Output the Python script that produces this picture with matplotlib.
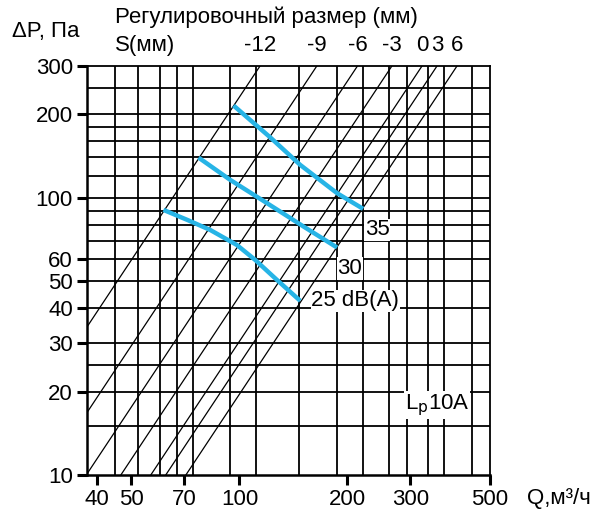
import matplotlib.pyplot as plt
import matplotlib.transforms as mtransforms

plt.rcParams['font.family'] = ['Liberation Sans', 'DejaVu Sans']

# x ticks / y ticks
q_ticks = [40, 50, 70, 100, 200, 300, 500]
p_ticks = [10, 20, 30, 40, 50, 60, 100, 200, 300]

# grid lines (irregular, as drawn in the original)
q_grid = [45, 52, 60, 67, 74, 94, 111, 147, 187, 221, 262, 294, 335, 372, 446]
p_grid = [15, 20, 25, 30, 40, 50, 60, 70, 80, 90, 100, 120, 140, 160, 180, 200, 250]

# S lines: Q where each line meets 10 Pa and 300 Pa
s_labels = ['-12', '-9', '-6', '-3', '0', '3', '6']
s_q10 = [20.0, 28.8, 37.4, 46.7, 56.6, 62.3, 70.9]
s_q300 = [114.3, 164.6, 213.7, 266.6, 323.5, 356.2, 405.0]

# noise curves
q_25 = [61.4, 72.0, 82.9, 98.4, 110.7, 127.2, 147.8]
p_25 = [90.5, 83.0, 76.6, 67.6, 59.7, 50.6, 42.5]
q_30 = [76.9, 94.3, 119.4, 151.0, 187.2]
p_30 = [139.8, 116.1, 95.7, 78.8, 66.2]
q_35 = [96.3, 121.9, 147.8, 187.2, 221.3]
p_35 = [215.4, 165.3, 131.5, 104.0, 91.3]

fs = 16

fig = plt.figure(figsize=(6, 5.31), dpi=100)
ax = fig.add_axes([0.1445, 0.1055, 0.6722, 0.7708])
ax.set_xscale('log')
ax.set_yscale('log')
ax.set_xlim(37.5, 500)
ax.set_ylim(10, 300)

for q in q_grid:
    ax.axvline(q, color='black', lw=1.3, zorder=1)
for p in p_grid:
    ax.axhline(p, color='black', lw=1.3, zorder=1)

for a, b in zip(s_q10, s_q300):
    ax.plot([a, b], [10, 300], color='black', lw=0.9, zorder=2)

blue = '#27b4e6'
for q, p in [(q_25, p_25), (q_30, p_30), (q_35, p_35)]:
    ax.plot(q, p, color=blue, lw=3.2, solid_capstyle='butt', solid_joinstyle='round', zorder=3)

box = dict(facecolor='white', edgecolor='none', pad=0.5)
ax.annotate('35', (q_35[-1], p_35[-1]), xytext=(10, -15), textcoords='offset points',
            ha='center', va='center', fontsize=fs, bbox=box, zorder=4)
ax.annotate('30', (q_30[-1], p_30[-1]), xytext=(9, -15), textcoords='offset points',
            ha='center', va='center', fontsize=fs, bbox=box, zorder=4)
ax.annotate('25 dB(A)', (q_25[-1], p_25[-1]), xytext=(8, 0), textcoords='offset points',
            ha='left', va='center', fontsize=fs, bbox=box, zorder=4)
ax.text(0.869, 0.171, r'L$_{\rm p}$10A', transform=ax.transAxes, ha='center', va='center',
        fontsize=fs, bbox=box, zorder=4)

ax.set_xticks(q_ticks)
ax.set_xticklabels([str(v) for v in q_ticks])
ax.set_yticks(p_ticks)
ax.set_yticklabels([str(v) for v in p_ticks])
ax.minorticks_off()
ax.tick_params(axis='both', direction='out', length=7, width=2.2, labelsize=fs, pad=3)

for sp in ax.spines.values():
    sp.set_linewidth(1.3)
ax.spines['left'].set_linewidth(1.8)
ax.spines['bottom'].set_linewidth(1.8)

trans = mtransforms.blended_transform_factory(ax.transData, fig.transFigure)
for lab, q in zip(s_labels, s_q300):
    ax.text(q, 0.915, lab, transform=trans, ha='center', va='center', fontsize=fs)

fig.text(0.02, 0.94, 'ΔP, Па', ha='left', va='center', fontsize=fs)
fig.text(0.192, 0.968, 'Регулировочный размер (мм)', ha='left', va='center', fontsize=fs)
fig.text(0.192, 0.915, 'S(мм)', ha='left', va='center', fontsize=fs)
fig.text(0.878, 0.062, 'Q,м³/ч', ha='left', va='center', fontsize=fs)

fig.savefig('out.png', dpi=100)
